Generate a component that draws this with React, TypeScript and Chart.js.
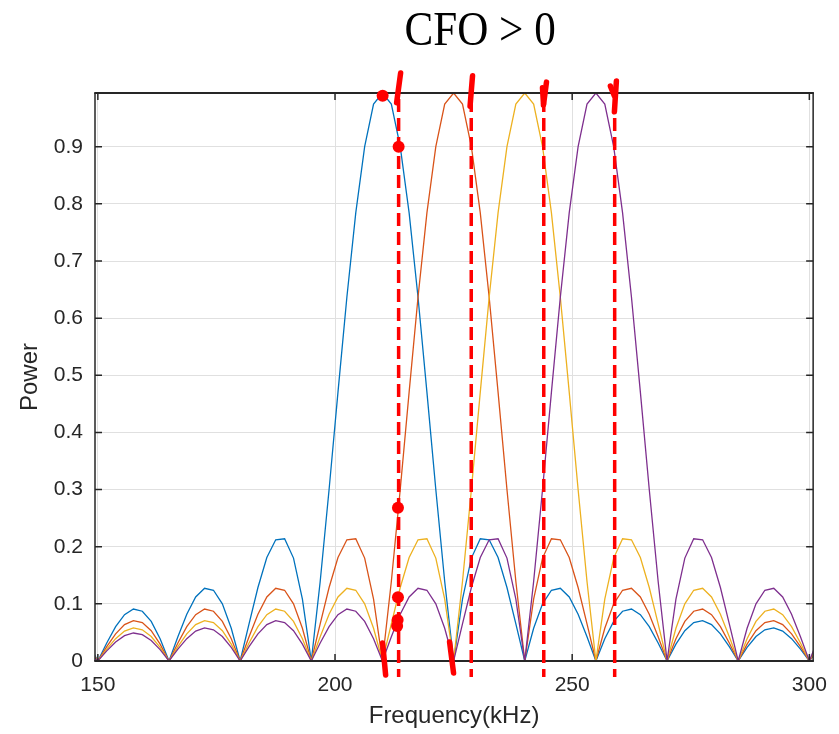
import { useEffect, useRef } from 'react';
import { Chart, registerables } from 'chart.js';

Chart.register(...registerables);

// ---------------- data ----------------
const frequencyKHz = [
  148.125,
  150, 151.875, 153.75, 155.625, 157.5, 159.375, 161.25, 163.125,
  165, 166.875, 168.75, 170.625, 172.5, 174.375, 176.25, 178.125,
  180, 181.875, 183.75, 185.625, 187.5, 189.375, 191.25, 193.125,
  195, 196.875, 198.75, 200.625, 202.5, 204.375, 206.25, 208.125,
  210, 211.875, 213.75, 215.625, 217.5, 219.375, 221.25, 223.125,
  225, 226.875, 228.75, 230.625, 232.5, 234.375, 236.25, 238.125,
  240, 241.875, 243.75, 245.625, 247.5, 249.375, 251.25, 253.125,
  255, 256.875, 258.75, 260.625, 262.5, 264.375, 266.25, 268.125,
  270, 271.875, 273.75, 275.625, 277.5, 279.375, 281.25, 283.125,
  285, 286.875, 288.75, 290.625, 292.5, 294.375, 296.25, 298.125,
  300, 301.875,
];

const powerBlue = [
  0.0295, 0, 0.0314, 0.0600, 0.0811, 0.0909, 0.0871, 0.0693,
  0.0390, 0, 0.0424, 0.0818, 0.1120, 0.1273, 0.1238, 0.1000,
  0.0573, 0, 0.0650, 0.1286, 0.1810, 0.2122, 0.2139, 0.1801,
  0.1083, 0, 0.1392, 0.3001, 0.4705, 0.6366, 0.7842, 0.9003,
  0.9745, 0.994,
  0.9745, 0.9003, 0.7842, 0.6366, 0.4705, 0.3001, 0.1392, 0,
  0.1083, 0.1801, 0.2139, 0.2122, 0.1810, 0.1286, 0.0650, 0,
  0.0573, 0.1000, 0.1238, 0.1273, 0.1120, 0.0818, 0.0424, 0,
  0.0390, 0.0693, 0.0871, 0.0909, 0.0811, 0.0600, 0.0314, 0,
  0.0295, 0.0530, 0.0672, 0.0707, 0.0636, 0.0474, 0.0250, 0,
  0.0238, 0.0429, 0.0547, 0.0579, 0.0523, 0.0391, 0.0207, 0,
  0.0199,
];

const powerOrange = [
  0.0238, 0, 0.0250, 0.0474, 0.0636, 0.0707, 0.0672, 0.0530,
  0.0295, 0, 0.0314, 0.0600, 0.0811, 0.0909, 0.0871, 0.0693,
  0.0390, 0, 0.0424, 0.0818, 0.1120, 0.1273, 0.1238, 0.1000,
  0.0573, 0, 0.0650, 0.1286, 0.1810, 0.2122, 0.2139, 0.1801,
  0.1083, 0, 0.1392, 0.3001, 0.4705, 0.6366, 0.7842, 0.9003,
  0.9745, 0.994,
  0.9745, 0.9003, 0.7842, 0.6366, 0.4705, 0.3001, 0.1392, 0,
  0.1083, 0.1801, 0.2139, 0.2122, 0.1810, 0.1286, 0.0650, 0,
  0.0573, 0.1000, 0.1238, 0.1273, 0.1120, 0.0818, 0.0424, 0,
  0.0390, 0.0693, 0.0871, 0.0909, 0.0811, 0.0600, 0.0314, 0,
  0.0295, 0.0530, 0.0672, 0.0707, 0.0636, 0.0474, 0.0250, 0,
  0.0238,
];

const powerYellow = [
  0.0199, 0, 0.0207, 0.0391, 0.0523, 0.0579, 0.0547, 0.0429,
  0.0238, 0, 0.0250, 0.0474, 0.0636, 0.0707, 0.0672, 0.0530,
  0.0295, 0, 0.0314, 0.0600, 0.0811, 0.0909, 0.0871, 0.0693,
  0.0390, 0, 0.0424, 0.0818, 0.1120, 0.1273, 0.1238, 0.1000,
  0.0573, 0, 0.0650, 0.1286, 0.1810, 0.2122, 0.2139, 0.1801,
  0.1083, 0, 0.1392, 0.3001, 0.4705, 0.6366, 0.7842, 0.9003,
  0.9745, 0.994,
  0.9745, 0.9003, 0.7842, 0.6366, 0.4705, 0.3001, 0.1392, 0,
  0.1083, 0.1801, 0.2139, 0.2122, 0.1810, 0.1286, 0.0650, 0,
  0.0573, 0.1000, 0.1238, 0.1273, 0.1120, 0.0818, 0.0424, 0,
  0.0390, 0.0693, 0.0871, 0.0909, 0.0811, 0.0600, 0.0314, 0,
  0.0295,
];

const powerPurple = [
  0.0171, 0, 0.0177, 0.0333, 0.0444, 0.0490, 0.0461, 0.0360,
  0.0199, 0, 0.0207, 0.0391, 0.0523, 0.0579, 0.0547, 0.0429,
  0.0238, 0, 0.0250, 0.0474, 0.0636, 0.0707, 0.0672, 0.0530,
  0.0295, 0, 0.0314, 0.0600, 0.0811, 0.0909, 0.0871, 0.0693,
  0.0390, 0, 0.0424, 0.0818, 0.1120, 0.1273, 0.1238, 0.1000,
  0.0573, 0, 0.0650, 0.1286, 0.1810, 0.2122, 0.2139, 0.1801,
  0.1083, 0, 0.1392, 0.3001, 0.4705, 0.6366, 0.7842, 0.9003,
  0.9745, 0.994,
  0.9745, 0.9003, 0.7842, 0.6366, 0.4705, 0.3001, 0.1392, 0,
  0.1083, 0.1801, 0.2139, 0.2122, 0.1810, 0.1286, 0.0650, 0,
  0.0573, 0.1000, 0.1238, 0.1273, 0.1120, 0.0818, 0.0424, 0,
  0.0390,
];

const xTicks = [150, 200, 250, 300];
const xTickLabels = ['150', '200', '250', '300'];
const yTicks = [0, 0.1, 0.2, 0.3, 0.4, 0.5, 0.6, 0.7, 0.8, 0.9];
const yTickLabels = ['0', '0.1', '0.2', '0.3', '0.4', '0.5', '0.6', '0.7', '0.8', '0.9'];

const titleText = 'CFO > 0';
const xTitle = 'Frequency(kHz)';
const yTitle = 'Power';

// hand-drawn red annotations (data units: kHz, power)
const cfoLineFreqs = [213.41, 228.72, 244.01, 258.96];
const cfoLineRange = [-0.028, 0.9835];
const redDots = [
  [210.04, 0.989],
  [213.41, 0.9],
  [213.27, 0.268],
  [213.27, 0.1115],
  [213.2, 0.0718],
  [213.1, 0.0613],
];
const redStrokes = [
  [213.83, 1.029, 212.99, 0.977],
  [228.99, 1.024, 228.47, 0.971],
  [244.58, 1.013, 243.95, 0.973],
  [243.74, 1.003, 243.95, 0.975],
  [259.32, 1.015, 258.9, 0.961],
  [258.06, 1.006, 258.9, 0.989],
  [210.04, 0.0315, 210.67, -0.0245],
  [224.15, 0.0333, 224.99, -0.021],
];

const seriesColors = ['#0072BD', '#D95319', '#EDB120', '#7E2F8E'];

const overlayPlugin = {
  id: 'matlabOverlay',
  afterDatasetsDraw(chart: any) {
    const { ctx, chartArea: a, scales } = chart;
    const xs = scales.x;
    const ys = scales.y;
    ctx.save();
    // axes box
    ctx.strokeStyle = '#262626';
    ctx.lineWidth = 1.5;
    ctx.beginPath();
    ctx.moveTo(a.left, a.top);
    ctx.lineTo(a.left, a.bottom);
    ctx.moveTo(a.right, a.top);
    ctx.lineTo(a.right, a.bottom);
    ctx.stroke();
    ctx.lineWidth = 2;
    ctx.beginPath();
    ctx.moveTo(a.left - 0.75, a.top);
    ctx.lineTo(a.right + 0.75, a.top);
    ctx.moveTo(a.left - 0.75, a.bottom);
    ctx.lineTo(a.right + 0.75, a.bottom);
    ctx.stroke();
    // inner ticks
    ctx.lineWidth = 1.5;
    ctx.beginPath();
    for (const v of xTicks) {
      const px = xs.getPixelForValue(v);
      ctx.moveTo(px, a.bottom);
      ctx.lineTo(px, a.bottom - 7);
      ctx.moveTo(px, a.top);
      ctx.lineTo(px, a.top + 7);
    }
    for (const v of yTicks) {
      const py = ys.getPixelForValue(v);
      ctx.moveTo(a.left, py);
      ctx.lineTo(a.left + 7, py);
      ctx.moveTo(a.right, py);
      ctx.lineTo(a.right - 7, py);
    }
    ctx.stroke();

    // red dashed lines
    ctx.strokeStyle = '#ff0000';
    ctx.fillStyle = '#ff0000';
    ctx.lineWidth = 3.5;
    ctx.setLineDash([13, 6]);
    ctx.lineCap = 'butt';
    ctx.beginPath();
    for (const f of cfoLineFreqs) {
      const px = xs.getPixelForValue(f);
      ctx.moveTo(px, ys.getPixelForValue(cfoLineRange[1]));
      ctx.lineTo(px, ys.getPixelForValue(cfoLineRange[0]));
    }
    ctx.stroke();
    ctx.setLineDash([]);
    // strokes
    ctx.lineWidth = 5.5;
    ctx.lineCap = 'round';
    for (const s of redStrokes) {
      ctx.beginPath();
      ctx.moveTo(xs.getPixelForValue(s[0]), ys.getPixelForValue(s[1]));
      ctx.lineTo(xs.getPixelForValue(s[2]), ys.getPixelForValue(s[3]));
      ctx.stroke();
    }
    // dots
    for (const d of redDots) {
      ctx.beginPath();
      ctx.arc(xs.getPixelForValue(d[0]), ys.getPixelForValue(d[1]), 6, 0, Math.PI * 2);
      ctx.fill();
    }

    // title
    ctx.fillStyle = '#000000';
    ctx.font = '49px "Liberation Serif"';
    ctx.textAlign = 'center';
    ctx.textBaseline = 'alphabetic';
    ctx.translate((a.left + a.right) / 2 + 26, 45);
    ctx.scale(0.88, 1);
    ctx.fillText(titleText, 0, 0);
    ctx.restore();
  },
};

export default function App() {
  const canvasRef = useRef<HTMLCanvasElement | null>(null);

  useEffect(() => {
    if (!canvasRef.current) return;
    const toPoints = (ys: number[]) => frequencyKHz.map((x, i) => ({ x, y: ys[i] }));
    const allSeries = [powerBlue, powerOrange, powerYellow, powerPurple];
    const chart = new Chart(canvasRef.current, {
      type: 'line',
      data: {
        datasets: allSeries.map((s, i) => ({
          data: toPoints(s),
          borderColor: seriesColors[i],
          backgroundColor: seriesColors[i],
          borderWidth: 1.3,
          pointRadius: 0,
          tension: 0,
          fill: false,
          order: 4 - i,
        })),
      },
      options: {
        animation: false,
        responsive: false,
        devicePixelRatio: 1,
        layout: { padding: { top: 93, right: 25, left: 0, bottom: 0 } },
        plugins: {
          legend: { display: false },
          tooltip: { enabled: false },
          title: { display: false },
        },
        scales: {
          x: {
            type: 'linear',
            min: 149.4,
            max: 300.8,
            afterBuildTicks: (scale: any) => {
              scale.ticks = xTicks.map((v) => ({ value: v }));
            },
            afterFit: (scale: any) => {
              scale.height = 73;
            },
            ticks: {
              padding: 12,
              color: '#262626',
              font: { family: '"Liberation Sans"', size: 21 },
              maxRotation: 0,
              autoSkip: false,
              callback: (_v: any, i: number) => xTickLabels[i],
            },
            grid: { color: '#e0e0e0', lineWidth: 1, drawTicks: false },
            border: { display: false },
            title: {
              display: true,
              text: xTitle,
              color: '#262626',
              font: { family: '"Liberation Sans"', size: 24 },
              padding: { top: 0, bottom: 3 },
            },
          },
          y: {
            type: 'linear',
            min: 0,
            max: 0.994,
            afterBuildTicks: (scale: any) => {
              scale.ticks = yTicks.map((v) => ({ value: v }));
            },
            afterFit: (scale: any) => {
              scale.width = 95;
            },
            ticks: {
              padding: 12,
              color: '#262626',
              font: { family: '"Liberation Sans"', size: 21 },
              autoSkip: false,
              callback: (_v: any, i: number) => yTickLabels[i],
            },
            grid: { color: '#e0e0e0', lineWidth: 1, drawTicks: false },
            border: { display: false },
            title: {
              display: true,
              text: yTitle,
              color: '#262626',
              font: { family: '"Liberation Sans"', size: 24 },
              padding: { top: 16, bottom: 0 },
            },
          },
        },
      },
      plugins: [overlayPlugin],
    } as any);
    return () => chart.destroy();
  }, []);

  return (
    <div style={{ position: 'fixed', left: 0, top: 0, width: 839, height: 734, background: '#ffffff' }}>
      <canvas ref={canvasRef} width={839} height={734} style={{ display: 'block', width: 839, height: 734 }} />
    </div>
  );
}
